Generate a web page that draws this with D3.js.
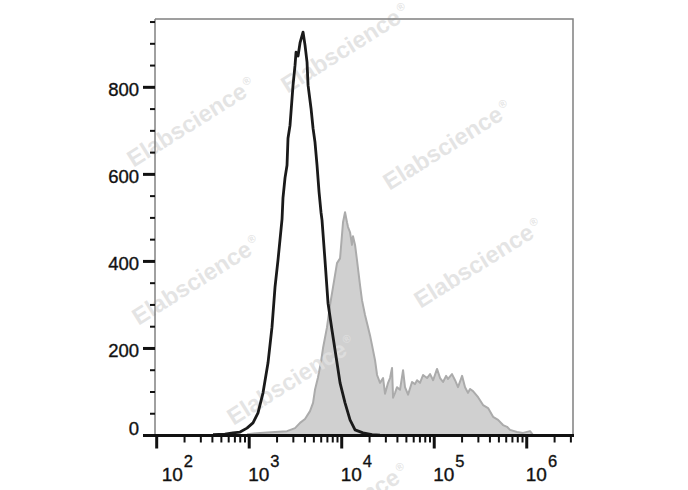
<!DOCTYPE html>
<html><head><meta charset="utf-8">
<script src="https://cdn.jsdelivr.net/npm/d3@7"></script>
<style>html,body{margin:0;padding:0;background:#fff;}svg{display:block;}</style>
</head><body>
<svg id="chart" width="688" height="490"></svg>
<script>
// Control (unstained / isotype) histogram: black line
const ctrlFL = [406,547,668,796,946,1099,1245,1410,1597,1763,1901,2047,2264,2318,2438,2563,2626,2762,2977,3129,3208,3373,3542,3817,4011,4217,4325,4656,4898,5140,5407,5689,5970,6124,6592,7112,7852,8892,9594,10860,12300,13930,16980,21280,25940];
const ctrlCount = [2,3,6,8,17,29,52,98,167,249,341,403,497,546,592,621,683,713,805,851,881,872,902,927,897,858,805,752,706,674,621,559,513,495,403,304,242,167,121,75,36,13,6,2,1];
// Stained histogram: gray filled
const stainFL = [946,1309,1901,2563,3129,3542,4011,4541,4898,5140,5546,5970,6281,6935,7482,8054,8892,9594,10330,10860,11400,11700,12300,12910,13240,13930,14620,15780,16560,17860,18790,20230,21280,22910,24100,25940,27990,29380,31700,33270,34990,35890,37670,39630,42660,46030,48310,52120,57540,61940,65160,70150,75680,83560,90160,97270,107200,115600,124500,134300,140900,155600,167900,180700,200000,215300,231700,243800,262400,297800,337300,381900,432500,489800,554600,612400,659200,785300,912000,1086000,1170000];
const stainCount = [3,6,8,10,17,29,38,56,75,105,134,169,201,249,300,341,396,407,490,513,490,479,467,438,458,438,403,345,311,277,258,230,207,173,139,121,132,96,121,132,155,87,98,111,105,150,111,94,123,118,127,121,139,132,141,127,153,132,123,137,130,141,127,111,137,111,98,107,102,88,70,63,43,36,24,20,13,8,6,10,1];
// Axis ticks
const yMajorTicks = [0,200,400,600,800];
const yMinorTicks = [50,100,150,250,300,350,450,500,550,650,700,750,850,900,950];
const xDecades = [2,3,4,5,6];
const xDomain = [100, 3162278];
const yDomain = [0, 957];
const watermarkText = "Elabscience";

const svg = d3.select("#chart");
const x = d3.scaleLog().domain(xDomain).range([156.7, 573]);
const y = d3.scaleLinear().domain(yDomain).range([435.5, 19]);
const font = "'Liberation Sans', Arial, sans-serif";

const ctrl = ctrlFL.map((v,i)=>({x:v, c:ctrlCount[i]}));
const stain = stainFL.map((v,i)=>({x:v, c:stainCount[i]}));

// stained fill
const area = d3.area().x(d=>x(d.x)).y0(y(0)).y1(d=>y(d.c));
svg.append("path").datum(stain).attr("d", area).attr("fill","#d0d0d0");
const line = d3.line().x(d=>x(d.x)).y(d=>y(d.c));
svg.append("path").datum(stain).attr("d", line).attr("fill","none")
  .attr("stroke","#ababab").attr("stroke-width",2).attr("stroke-linejoin","round");

// watermarks
const wmCenters = [[345,48],[191,122],[447,145],[196,280],[478,263],[291,380],[344,508]];
wmCenters.forEach(([cx,cy])=>{
  const t = svg.append("text")
    .attr("transform",`translate(${cx},${cy}) rotate(-32)`)
    .attr("text-anchor","middle").attr("dy","0.35em")
    .attr("font-family",font).attr("font-weight","bold").attr("font-size",23.5)
    .attr("fill","#e0e0e0").attr("fill-opacity",0.85);
  t.append("tspan").text(watermarkText);
  t.append("tspan").attr("font-size",11).attr("dy","-0.9em").attr("dx","2").text("®");
});

// control line
svg.append("path").datum(ctrl).attr("d", line).attr("fill","none")
  .attr("stroke","#1a1a1a").attr("stroke-width",2.8).attr("stroke-linejoin","round");

// frame (top, right, left)
svg.append("path").attr("d",`M${x.range()[0]-1.7},${y(yDomain[1])}H${x.range()[1]}V${y(0)}`)
  .attr("fill","none").attr("stroke","#808080").attr("stroke-width",1.5);
svg.append("line").attr("x1",155).attr("x2",155).attr("y1",y(yDomain[1])).attr("y2",y(0))
  .attr("stroke","#808080").attr("stroke-width",1.5);

// x axis line
svg.append("line").attr("x1",143).attr("x2",574).attr("y1",y(0)).attr("y2",y(0))
  .attr("stroke","#111").attr("stroke-width",3);

// y ticks
const yAxis = svg.append("g");
yMajorTicks.forEach(v=>{
  yAxis.append("line").attr("x1",143).attr("x2",155).attr("y1",y(v)).attr("y2",y(v))
    .attr("stroke","#111").attr("stroke-width",3);
  yAxis.append("text").attr("x",139).attr("y",y(v) + (v===0? -7 : 2))
    .attr("dy","0.35em").attr("text-anchor","end")
    .attr("font-family",font).attr("font-size",18.5).attr("fill","#111")
    .attr("stroke","#111").attr("stroke-width",0.35).text(v);
});
yMinorTicks.forEach(v=>{
  yAxis.append("line").attr("x1",150).attr("x2",155).attr("y1",y(v)).attr("y2",y(v))
    .attr("stroke","#111").attr("stroke-width",2);
});

// x ticks
const xAxis = svg.append("g");
const minorX = [];
for (let k=2;k<=6;k++) for (let m=2;m<=9;m++){ const v=m*Math.pow(10,k); if (v<=xDomain[1]) minorX.push(v); }
minorX.forEach(v=>{
  xAxis.append("line").attr("x1",x(v)).attr("x2",x(v)).attr("y1",y(0)).attr("y2",y(0)+7)
    .attr("stroke","#111").attr("stroke-width",2);
});
xDecades.forEach(k=>{
  const v = Math.pow(10,k);
  xAxis.append("line").attr("x1",x(v)).attr("x2",x(v)).attr("y1",y(0)).attr("y2",y(0)+13)
    .attr("stroke","#111").attr("stroke-width",3);
  const t = xAxis.append("text").attr("x",x(v)+(k===2?5:-1)).attr("y",481)
    .attr("font-family",font).attr("font-size",19).attr("fill","#111")
    .attr("stroke","#111").attr("stroke-width",0.35);
  t.append("tspan").text("10");
  t.append("tspan").attr("font-size",16.5).attr("dy",-14).attr("dx",1).text(k);
});
</script>
</body></html>
